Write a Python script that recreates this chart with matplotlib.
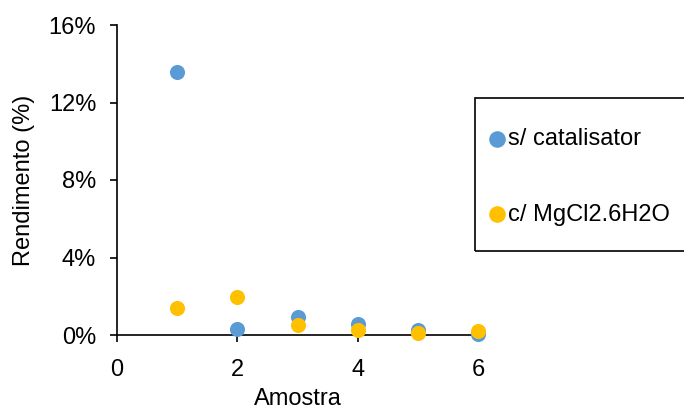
import matplotlib
matplotlib.use("Agg")
import matplotlib.pyplot as plt
from matplotlib.patches import Rectangle
from matplotlib.ticker import PercentFormatter

# Sample numbers and yields (%)
amostra = [1, 2, 3, 4, 5, 6]
sem_catalisador = [13.57, 0.33, 0.95, 0.57, 0.28, 0.05]
com_mgcl2 = [1.38, 1.98, 0.53, 0.26, 0.12, 0.20]

series_labels = ["s/ catalisator", "c/ MgCl2.6H2O"]
x_ticks = [0, 2, 4, 6]
y_ticks = [0, 4, 8, 12, 16]

FS = 17
plt.rcParams["font.family"] = ["Liberation Sans", "DejaVu Sans"]
plt.rcParams["font.size"] = FS

W, H = 684, 408
fig = plt.figure(figsize=(W / 100, H / 100), dpi=100)
ax = fig.add_axes([117 / W, 1 - 335 / H, (478 - 117) / W, (335 - 25) / H])

blue = "#5B9BD5"
gold = "#FFC000"
ax.scatter(amostra, sem_catalisador, s=118, color=blue, label=series_labels[0],
           zorder=3, linewidths=0, clip_on=False)
ax.scatter(amostra, com_mgcl2, s=118, color=gold, label=series_labels[1],
           zorder=4, linewidths=0, clip_on=False)

ax.set_xlim(0, 6)
ax.set_ylim(0, 16)
ax.set_xticks(x_ticks)
ax.set_yticks(y_ticks)
ax.yaxis.set_major_formatter(PercentFormatter(decimals=0))

for side in ("top", "right"):
    ax.spines[side].set_visible(False)
for side in ("left", "bottom"):
    ax.spines[side].set_linewidth(1.2)
    ax.spines[side].set_color("#000000")
ax.tick_params(direction="out", length=5, width=1.2, color="#000000",
               labelsize=FS)
ax.tick_params(axis="x", pad=12)
ax.tick_params(axis="y", pad=10)

ax.set_xlabel("Amostra", fontsize=FS, labelpad=5)
ax.set_ylabel("Rendimento (%)", fontsize=FS, labelpad=10)

# Legend box (extends past the right edge of the figure)
fig.add_artist(Rectangle((475 / W, 1 - 251 / H), 300 / W, (251 - 98) / H,
                         transform=fig.transFigure, fill=False,
                         edgecolor="#000000", linewidth=1.2))
fig.legend(loc="upper left",
           bbox_to_anchor=(490 / W, 1 - 128 / H),
           borderaxespad=0, borderpad=0, frameon=False,
           labelspacing=2.27, handlelength=0.6, handletextpad=0.17,
           fontsize=FS, scatterpoints=1, markerscale=1.1)

fig.savefig("out.png", dpi=100)
